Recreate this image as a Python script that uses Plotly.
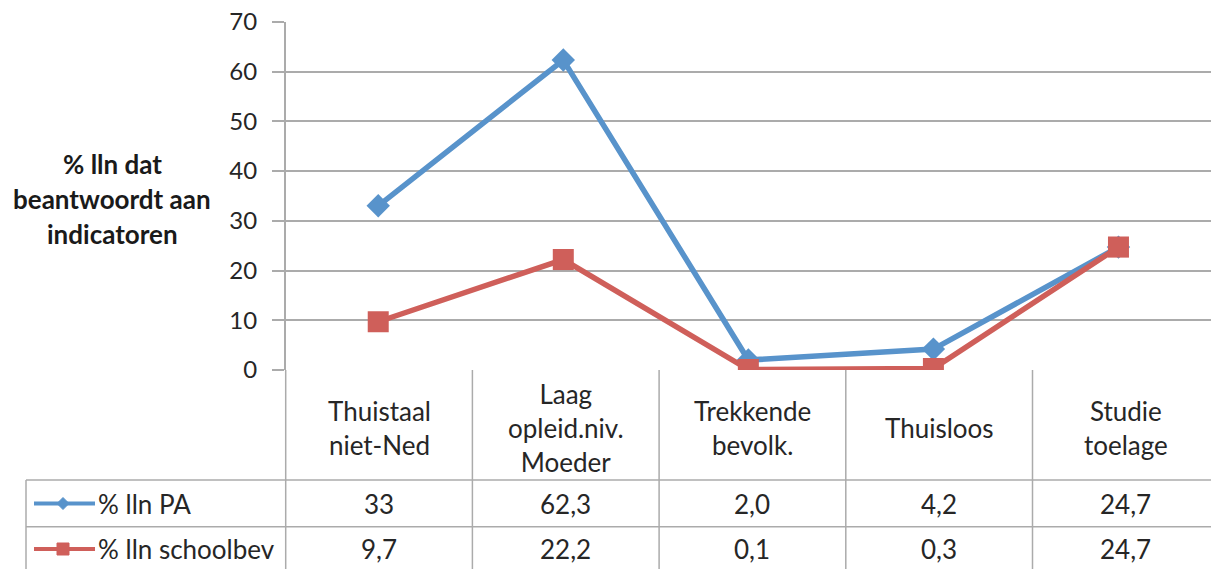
import plotly.graph_objects as go

# ---- data ----
categories = [["Thuistaal", "niet-Ned"], ["Laag", "opleid.niv.", "Moeder"],
              ["Trekkende", "bevolk."], ["Thuisloos"], ["Studie", "toelage"]]
series_names = ["% lln PA", "% lln schoolbev"]
pa_values = [33, 62.3, 2.0, 4.2, 24.7]
school_values = [9.7, 22.2, 0.1, 0.3, 24.7]
pa_labels = ["33", "62,3", "2,0", "4,2", "24,7"]
school_labels = ["9,7", "22,2", "0,1", "0,3", "24,7"]
y_ticks = [0, 10, 20, 30, 40, 50, 60, 70]
y_title_lines = ["% lln dat", "beantwoordt aan", "indicatoren"]

# ---- style ----
W, H = 1211, 569
OFF = 0                                # page body margin removed via post_script
FONT = "Lato"
TXT = "#262626"
GRID = "#ababab"
BLUE = "#5893cb"
RED = "#cf5f5a"

PL, PT, PB = 285.7, 21.5, 370.0      # plot area screen-pixel edges
COLW = 186.7                           # category column width (px)
PR = PL + 5 * COLW                     # right edge (clipped by window)

def fx(px):
    return (px - OFF) / W

def fy(py):
    return 1 - (py - OFF) / H

fig = go.Figure()
x = list(range(len(pa_values)))
fig.add_trace(go.Scatter(x=x, y=pa_values, mode="lines+markers", name=series_names[0],
                         line=dict(color=BLUE, width=5.5),
                         marker=dict(symbol="diamond", size=18, color=BLUE)))
fig.add_trace(go.Scatter(x=x, y=school_values, mode="lines+markers", name=series_names[1],
                         line=dict(color=RED, width=5.5),
                         marker=dict(symbol="square", size=21, color=RED)))

shapes = []
ann = []
# horizontal table lines
for py in [480, 526.7]:
    shapes.append(dict(type="line", xref="paper", yref="paper", x0=fx(26), x1=fx(PR),
                       y0=fy(py), y1=fy(py), line=dict(color=GRID, width=1.5)))
shapes.append(dict(type="line", xref="paper", yref="paper", x0=fx(26), x1=fx(26),
                   y0=fy(480), y1=fy(600), line=dict(color=GRID, width=1.5)))
# vertical column lines (including y-axis line extension)
for i in range(len(categories) + 1):
    px = PL + i * COLW
    shapes.append(dict(type="line", xref="paper", yref="paper", x0=fx(px), x1=fx(px),
                       y0=fy(PB), y1=fy(600), line=dict(color=GRID, width=1.5)))

# category header labels and table values
for i, lines in enumerate(categories):
    cx = fx(PL + (i + 0.5) * COLW)
    ann.append(dict(xref="paper", yref="paper", x=cx, y=fy(428),
                    text="<br>".join(lines), showarrow=False, xanchor="center", yanchor="middle",
                    font=dict(family=FONT, size=26, color=TXT)))
    ann.append(dict(xref="paper", yref="paper", x=cx, y=fy(503.5),
                    text=pa_labels[i], showarrow=False, xanchor="center", yanchor="middle",
                    font=dict(family=FONT, size=26, color=TXT)))
    ann.append(dict(xref="paper", yref="paper", x=cx, y=fy(549),
                    text=school_labels[i], showarrow=False, xanchor="center", yanchor="middle",
                    font=dict(family=FONT, size=26, color=TXT)))

# legend keys in the table
for row_y, name, color, sym in [(503.5, series_names[0], BLUE, "diamond"),
                                (549, series_names[1], RED, "square")]:
    shapes.append(dict(type="line", xref="paper", yref="paper", x0=fx(34), x1=fx(95),
                       y0=fy(row_y), y1=fy(row_y), line=dict(color=color, width=4)))
    if sym == "diamond":
        path = "M {} {} L {} {} L {} {} L {} {} Z".format(
            fx(57), fy(row_y), fx(63), fy(row_y - 6), fx(69), fy(row_y), fx(63), fy(row_y + 6))
    else:
        path = "M {} {} L {} {} L {} {} L {} {} Z".format(
            fx(57), fy(row_y - 6), fx(69), fy(row_y - 6), fx(69), fy(row_y + 6), fx(57), fy(row_y + 6))
    shapes.append(dict(type="path", xref="paper", yref="paper", path=path,
                       fillcolor=color, line=dict(color=color, width=1)))
    ann.append(dict(xref="paper", yref="paper", x=fx(96), y=fy(row_y), text=name,
                    showarrow=False, xanchor="left", yanchor="middle",
                    font=dict(family=FONT, size=26, color=TXT)))

# y-axis title
for k, line in enumerate(y_title_lines):
    ann.append(dict(xref="paper", yref="paper", x=fx(112.5), y=fy(164 + 35 * k),
                    text="<b>" + line + "</b>", showarrow=False, xanchor="center", yanchor="middle",
                    font=dict(family=FONT, size=26, color="#1a1a1a")))

fig.update_layout(
    width=W, height=H, margin=dict(l=0, r=0, t=0, b=0, pad=0, autoexpand=False),
    paper_bgcolor="white", plot_bgcolor="white", showlegend=False,
    xaxis=dict(domain=[fx(PL), min(1, fx(PR))], range=[-0.5, 4.5], showgrid=False, zeroline=False,
               showticklabels=False, ticks="", showline=False, fixedrange=True,
               automargin=False),
    yaxis=dict(domain=[fy(PB), fy(PT)], range=[0, 70.05], tickvals=y_ticks,
               showgrid=True, gridcolor=GRID, gridwidth=1.5, zeroline=False,
               showline=True, linecolor=GRID, linewidth=1.5, automargin=False,
               ticks="outside", ticklen=12, tickcolor=GRID, tickwidth=1.5,
               ticklabeloverflow="allow",
               tickfont=dict(family=FONT, size=24, color=TXT), ticklabelstandoff=10),
    shapes=shapes, annotations=ann,
)

fig.write_html("out.html", config={"displayModeBar": False},
               post_script="document.body.style.margin='0px';")
